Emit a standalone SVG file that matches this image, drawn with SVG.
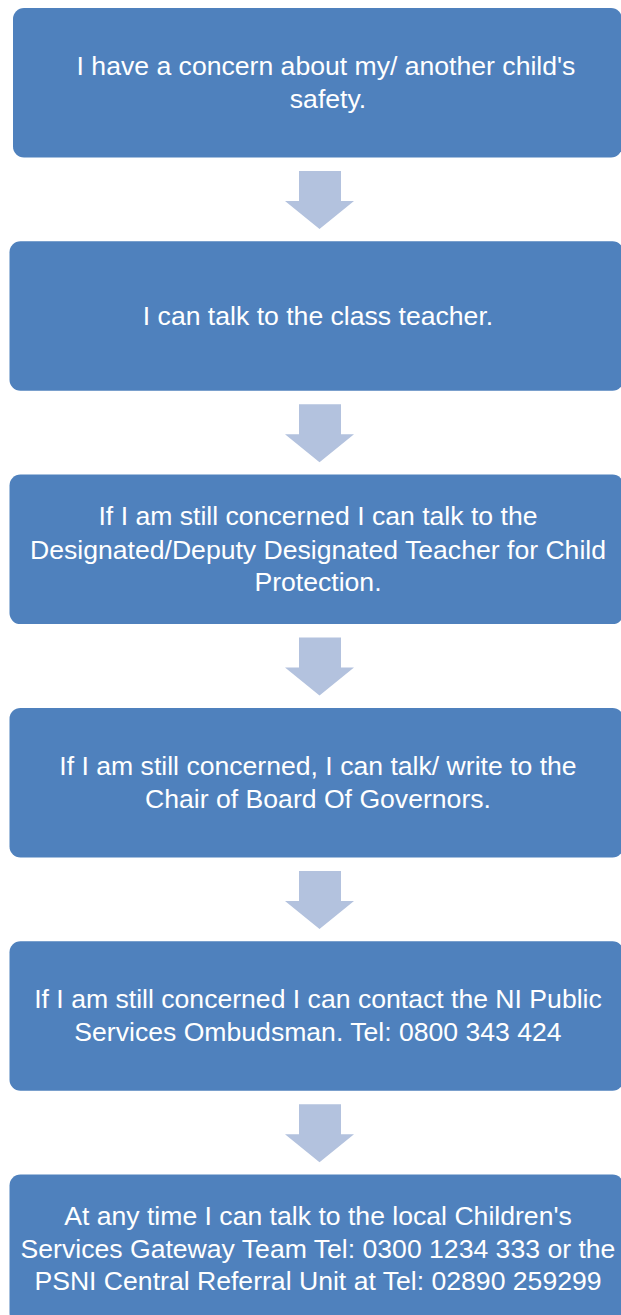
<svg xmlns="http://www.w3.org/2000/svg" width="621" height="1315" viewBox="0 0 621 1315">
<style>
.box{fill:#4f81bd;}
.arr{fill:#b3c2de;}
.t{font-family:"Liberation Sans",Arial,sans-serif;font-size:26.6px;fill:#ffffff;text-anchor:middle;}
</style>
<defs>
<path id="downArrow" d="M299,0 H341 V30 H354 L319.5,58 L285,30 H299 Z"/>
</defs>
<rect width="621" height="1315" fill="#ffffff"/>
<g id="connectors">
<use href="#downArrow" class="arr" transform="translate(0,171)"/>
<use href="#downArrow" class="arr" transform="translate(0,404.3)"/>
<use href="#downArrow" class="arr" transform="translate(0,637.6)"/>
<use href="#downArrow" class="arr" transform="translate(0,870.9)"/>
<use href="#downArrow" class="arr" transform="translate(0,1104.2)"/>
</g>
<g id="node1">
<rect class="box" x="13" y="8" width="609" height="149.5" rx="11"/>
<text class="t" x="326" y="75.4">I have a concern about my/ another child's</text>
<text class="t" x="328" y="108.4">safety.</text>
</g>
<g id="node2">
<rect class="box" x="9.5" y="241.3" width="614" height="149.5" rx="11"/>
<text class="t" x="318" y="325.4">I can talk to the class teacher.</text>
</g>
<g id="node3">
<rect class="box" x="9.5" y="474.6" width="614" height="149.5" rx="11"/>
<text class="t" x="318" y="525">If I am still concerned I can talk to the</text>
<text class="t" x="318" y="558.5">Designated/Deputy Designated Teacher for Child</text>
<text class="t" x="318" y="591">Protection.</text>
</g>
<g id="node4">
<rect class="box" x="9.5" y="707.9" width="614" height="149.5" rx="11"/>
<text class="t" x="318" y="775">If I am still concerned, I can talk/ write to the</text>
<text class="t" x="318" y="808">Chair of Board Of Governors.</text>
</g>
<g id="node5">
<rect class="box" x="9.5" y="941.2" width="614" height="149.5" rx="11"/>
<text class="t" x="318" y="1008.4">If I am still concerned I can contact the NI Public</text>
<text class="t" x="318" y="1041.4">Services Ombudsman. Tel: 0800 343 424</text>
</g>
<g id="node6">
<rect class="box" x="9.5" y="1174.5" width="614" height="149.5" rx="11"/>
<text class="t" x="318" y="1225">At any time I can talk to the local Children's</text>
<text class="t" x="318" y="1257.5">Services Gateway Team Tel: 0300 1234 333 or the</text>
<text class="t" x="318" y="1290">PSNI Central Referral Unit at Tel: 02890 259299</text>
</g>
</svg>
